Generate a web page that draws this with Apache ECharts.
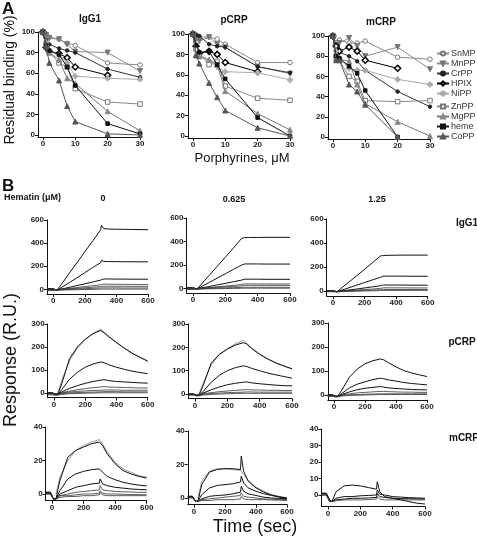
<!DOCTYPE html>
<html><head><meta charset="utf-8">
<script src="https://cdn.jsdelivr.net/npm/echarts@6/dist/echarts.min.js"></script>
<style>html,body{margin:0;padding:0;background:#fff}#c{width:477px;height:539px}</style>
</head><body><div id="c"></div><script>
// ---------- Panel A data ----------
const porphyrinConc = [0, 1, 2, 5, 7.5, 10, 20, 30];
const porphyrins = ['SnMP', 'MnPP', 'CrPP', 'HPIX', 'NiPP', 'ZnPP', 'MgPP', 'heme', 'CoPP'];
const igg1Binding = [
  [100, 98, 95, 93, 89, 87, 70, 68],
  [100, 97, 94, 93, 88, 81, 80, 62],
  [100, 92, 88, 84, 82, 80, 64, 56],
  [100, 85, 81, 79, 75, 66, 58, null],
  [100, 90, 82, 78, 70, 57, 55, 54],
  [100, 88, 80, 70, 66, 45, 32, 30],
  [100, 88, 80, 73, 55, 50, 23, 4],
  [100, 87, 82, 78, 66, 48, 11, 1],
  [100, 86, 70, 53, 28, 13, 1, 0]
];
const pcrpBinding = [
  [100, 99, 97, 97, 95, 90, 72, 72],
  [100, 95, 93, 97, 90, 87, 68, 61],
  [100, 99, 98, 90, 88, 87, 68, 62],
  [100, 88, 81, 83, 80, 72, 63, null],
  [100, 85, 80, 73, 68, 63, 62, 55],
  [100, 85, 80, 70, 73, 49, 37, 35],
  [100, 80, 78, 75, 70, 44, 22, 6],
  [100, 89, 82, 83, 70, 56, 18, 0],
  [100, 79, 71, 52, 38, 25, 8, 0]
];
const mcrpBinding = [
  [100, 93, 96, 93, 93, 95, 79, 77],
  [100, 90, 93, 98, 90, 80, 89, 67],
  [100, 88, 84, 80, 75, 66, 45, 30],
  [100, 90, 85, 89, 85, 76, 68, null],
  [100, 85, 78, 68, 66, 66, 57, 52],
  [100, 80, 76, 60, 55, 36, 35, 36],
  [100, 78, 77, 75, 52, 33, 15, 1],
  [100, 80, 78, 70, 63, 46, 0, null],
  [100, 76, 76, 52, 45, 32, 0, null]
];
const bindingTicksX = [0, 10, 20, 30];
const bindingTicksY = [0, 20, 40, 60, 80, 100];

// ---------- Panel B data (SPR sensorgrams) ----------
const sprTime = [-40, -10, 10, 25, 50, 100, 150, 200, 250, 300, 305, 320, 350, 400, 450, 500, 550, 600];
const igg1H0 = [
  [5, 5, 0, -5, 42, 137, 231, 326, 420, 515, 555, 525, 522, 520, 519, 518, 517, 516],
  [5, 5, 0, -5, 15, 57, 100, 145, 190, 230, 252, 242, 240, 240, 239, 239, 238, 238],
  [3, 3, 0, -4, 3, 17, 33, 48, 64, 80, 96, 90, 90, 89, 89, 88, 88, 88],
  [2, 2, 0, -4, 1, 8, 16, 24, 32, 40, 52, 46, 45, 44, 43, 43, 42, 42],
  [0, 0, -2, -5, -1, 4, 9, 14, 19, 24, 32, 28, 28, 27, 27, 26, 26, 26],
  [-5, -5, -5, -6, -3, 0, 3, 6, 9, 12, 16, 13, 13, 13, 12, 12, 12, 12],
  [-10, -10, -10, -8, -6, -4, -3, -1, 0, 2, 4, 2, 2, 2, 2, 2, 2, 2]
];
const igg1H0625 = [
  [5, 5, 0, -5, 33, 110, 188, 265, 343, 425, 432, 433, 434, 434, 435, 435, 435, 435],
  [5, 5, 0, -5, 13, 50, 87, 124, 162, 198, 210, 208, 208, 208, 207, 207, 207, 207],
  [3, 3, 0, -4, 3, 15, 29, 42, 56, 70, 82, 78, 78, 78, 77, 77, 77, 77],
  [2, 2, 0, -4, 1, 7, 13, 19, 25, 32, 42, 38, 38, 37, 37, 37, 37, 37],
  [0, 0, -2, -5, -1, 3, 8, 12, 16, 20, 28, 25, 25, 25, 25, 25, 25, 25],
  [-5, -5, -5, -6, -3, -1, 2, 4, 6, 8, 10, 9, 9, 9, 9, 9, 9, 9],
  [-10, -10, -10, -8, -6, -4, -3, -2, -1, 0, 2, 1, 1, 1, 1, 1, 1, 1]
];
const igg1H125 = [
  [5, 5, 0, -5, 22, 75, 128, 182, 237, 292, 296, 297, 298, 299, 300, 300, 300, 300],
  [5, 5, 0, -5, 6, 28, 50, 72, 94, 115, 128, 125, 125, 125, 125, 124, 124, 124],
  [3, 3, 0, -4, 1, 10, 18, 27, 36, 45, 55, 52, 51, 51, 51, 50, 50, 50],
  [2, 2, 0, -4, 0, 5, 9, 14, 18, 23, 30, 28, 28, 28, 28, 27, 27, 27],
  [0, 0, -2, -5, -2, 1, 4, 7, 9, 12, 15, 14, 14, 14, 14, 14, 14, 14],
  [-5, -5, -5, -6, -4, -2, 0, 2, 3, 5, 7, 6, 6, 6, 6, 6, 6, 6]
];
const pcrpH0 = [
  [0, 0, -5, -5, 40, 150, 200, 234, 258, 272, 270, 262, 245, 219, 195, 173, 155, 138],
  [0, 0, -5, -5, 15, 60, 90, 112, 126, 135, 137, 132, 123, 112, 103, 95, 89, 84],
  [0, 0, -5, -5, 5, 20, 32, 42, 50, 56, 64, 58, 54, 50, 48, 46, 44, 43],
  [0, 0, -5, -5, 2, 8, 14, 19, 23, 26, 32, 28, 26, 25, 24, 23, 22, 22],
  [-3, -3, -6, -6, 0, 4, 7, 9, 11, 12, 16, 13, 13, 13, 12, 12, 12, 12],
  [-5, -5, -8, -8, -3, 0, 2, 3, 4, 5, 7, 6, 6, 6, 5, 5, 5, 5],
  [-8, -8, -10, -9, -6, -3, -2, -1, 0, 1, 2, 1, 1, 1, 1, 1, 1, 1]
];
const pcrpH0Fit = [null, null, null, 0, 55, 140, 195, 232, 258, 278, 276, 266, 248, 220, 196, 174, 156, 140];
const pcrpH0625 = [
  [0, 0, -5, -5, 35, 132, 170, 192, 210, 220, 222, 214, 195, 170, 150, 133, 120, 108],
  [0, 0, -5, -5, 10, 50, 80, 100, 113, 121, 123, 118, 110, 100, 90, 82, 75, 68],
  [0, 0, -5, -5, 4, 18, 30, 40, 46, 51, 58, 52, 48, 44, 41, 38, 36, 35],
  [0, 0, -5, -5, 1, 6, 10, 13, 16, 18, 24, 19, 18, 17, 16, 16, 15, 15],
  [-3, -3, -6, -6, -1, 2, 4, 6, 7, 8, 11, 9, 9, 8, 8, 8, 8, 8],
  [-5, -5, -8, -8, -4, -2, 0, 1, 2, 3, 4, 3, 3, 3, 3, 3, 3, 3]
];
const pcrpH0625Fit = [null, null, null, 0, 45, 125, 168, 195, 215, 230, 228, 218, 198, 172, 151, 134, 120, 108];
const pcrpH125 = [
  [0, 0, -5, -5, 20, 75, 108, 130, 143, 150, 152, 147, 135, 117, 102, 92, 84, 77],
  [0, 0, -5, -5, 6, 30, 45, 55, 64, 70, 73, 68, 63, 58, 52, 48, 45, 42],
  [0, 0, -5, -5, 2, 13, 22, 28, 32, 35, 38, 33, 30, 27, 25, 23, 22, 21],
  [-2, -2, -6, -6, 0, 5, 9, 11, 13, 15, 18, 15, 14, 13, 12, 12, 11, 11],
  [-4, -4, -7, -7, -2, 1, 2, 3, 4, 5, 6, 5, 5, 5, 5, 5, 5, 5],
  [-6, -6, -8, -8, -4, -2, -1, 0, 1, 2, 2, 2, 2, 2, 2, 2, 2, 2]
];
const mcrpH0 = [
  [1, 1, -3, -3, 8, 22, 26, 28, 30, 31, 31, 29, 24, 18, 14, 12, 10.5, 9.5],
  [1, 1, -3, -3, 2, 9, 12, 13.5, 14.5, 15, 15.5, 13, 10.5, 8.5, 7, 6, 5.3, 4.8],
  [0.5, 0.5, -3, -3, 0, 2, 4, 5, 6, 6.5, 9, 6, 5, 4, 3.5, 3, 2.7, 2.5],
  [0.5, 0.5, -3, -3, -1, 0, 1, 1.5, 2, 2.5, 5, 2.5, 2, 1.5, 1.3, 1.2, 1, 1],
  [0, 0, -3, -3, -1, -1, -0.5, 0, 0, 0.5, 2, 0.5, 0, 0, -0.2, -0.3, -0.4, -0.5],
  [0, 0, -3, -3, -2, -1.5, -1.5, -1, -1, -0.5, 1, -0.5, -1, -1, -1, -1, -1, -1]
];
const mcrpH0Fit = [null, null, null, 0, 10, 20, 26, 29, 31, 32.5, 32, 30, 25, 19, 15, 13, 11, 10];
const mcrpH0625 = [
  [1, 1, -2, -2, 8, 15.5, 17, 17.5, 17.5, 17, 25, 16, 10, 6, 3.5, 1.8, 0.5, -0.5],
  [1, 1, -2, -2, 2, 6, 7.5, 8, 8.5, 9.5, 13, 9, 6, 4, 2.5, 1.5, 0.7, 0],
  [0.5, 0.5, -2, -2, -0.5, 1, 1.5, 1.8, 2.5, 3.5, 7, 4, 2.5, 1.5, 0.5, 0, -0.3, -0.5],
  [0.5, 0.5, -2, -2, -1, -0.5, 0, 0.5, 1, 1.5, 3, 1, 0.5, 0, -0.5, -0.7, -0.9, -1],
  [0, 0, -2, -2, -1.5, -1.5, -1, -1, -1, -0.5, 1, -0.5, -1, -1, -1, -1.2, -1.3, -1.5]
];
const mcrpH0625Fit = [null, null, null, 0, 10, 16, 17.5, 17.5, 17, 16.5, 16.5, 14, 10.5, 6.5, 4, 2, 1, 0];
const mcrpH125 = [
  [1, 1, -3, -4, 2, 5.5, 6, 5.5, 4.5, 3.5, 8, 2, -1, -2, -3, -4, -5, -5.5],
  [1, 1, -3, -4, -2, -1, -1, -0.5, -0.3, 0, 3, 0.5, 0, -1, -1.3, -1.6, -1.8, -2],
  [0, 0, -4, -4, -3, -2.5, -2, -2, -1.8, -1.5, 1, -1, -1.5, -2, -2.2, -2.3, -2.4, -2.5],
  [0, 0, -4, -4, -3.5, -3, -3, -3, -2.8, -2.5, -1, -2.5, -3, -3, -3, -3, -3, -3]
];
const timeTicks = [0, 200, 400, 600];
const igg1Ticks = [0, 200, 400, 600];
const pcrpTicks = [0, 100, 200, 300];
const mcrpTicks = [0, 20, 40];
const mcrpTicks3 = [0, 10, 20, 30, 40];

// ---------- styles / layout ----------
const FONT = 'Liberation Sans, Arial, sans-serif';
const symStyle = {
  SnMP: {symbol: 'circle', size: 4.5, fill: '#fff', stroke: '#777', line: '#888'},
  MnPP: {symbol: 'triangle', rotate: 180, size: 5, fill: '#777', stroke: '#777', line: '#888'},
  CrPP: {symbol: 'circle', size: 3.5, fill: '#222', stroke: '#222', line: '#333'},
  HPIX: {symbol: 'diamond', size: 6, fill: '#fff', stroke: '#000', bw: 1.5, line: '#000'},
  NiPP: {symbol: 'path://M-1,-3L1,-3L1,-1L3,-1L3,1L1,1L1,3L-1,3L-1,1L-3,1L-3,-1L-1,-1Z', size: 5, fill: '#aaa', stroke: '#aaa', line: '#aaa'},
  ZnPP: {symbol: 'rect', size: 4.5, fill: '#fff', stroke: '#777', line: '#888'},
  MgPP: {symbol: 'triangle', size: 5, fill: '#888', stroke: '#888', line: '#777'},
  heme: {symbol: 'rect', size: 3.5, fill: '#111', stroke: '#111', line: '#111'},
  CoPP: {symbol: 'triangle', size: 5, fill: '#555', stroke: '#555', line: '#555'}
};

const grids = [], xAxes = [], yAxes = [], series = [];
function addGrid(g, xmin, xmax, xt, ymin, ymax, yt) {
  const i = grids.length;
  grids.push(Object.assign({containLabel: false}, g));
  const lab = {fontSize: 8, fontWeight: 'bold', color: '#222', fontFamily: FONT, margin: 3};
  const axLine = {onZero: false, lineStyle: {color: '#111', width: 1}};
  xAxes.push({type: 'value', gridIndex: i, min: xmin, max: xmax,
    axisLine: axLine, splitLine: {show: false},
    axisTick: {customValues: xt, length: 3, lineStyle: {color: '#111'}},
    axisLabel: Object.assign({customValues: xt}, lab)});
  yAxes.push({type: 'value', gridIndex: i, min: ymin, max: ymax,
    axisLine: axLine, splitLine: {show: false},
    axisTick: {customValues: yt, length: 3, lineStyle: {color: '#111'}},
    axisLabel: Object.assign({customValues: yt}, lab)});
  return i;
}

// Panel A
const panelA = [
  {data: igg1Binding, grid: {left: 38, top: 32, width: 102, height: 105}},
  {data: pcrpBinding, grid: {left: 188, top: 34, width: 102, height: 104}},
  {data: mcrpBinding, grid: {left: 328, top: 36, width: 102, height: 103}}
];
panelA.forEach(p => {
  const gi = addGrid(p.grid, -1.5, 30, bindingTicksX, -2, 100, bindingTicksY);
  p.data.forEach((vals, k) => {
    const name = porphyrins[k], s = symStyle[name];
    series.push({type: 'line', name, xAxisIndex: gi, yAxisIndex: gi,
      data: porphyrinConc.map((x, j) => [x, vals[j]]).filter(d => d[1] !== null),
      symbol: s.symbol, symbolSize: s.size, symbolRotate: s.rotate || 0, showSymbol: true,
      itemStyle: {color: s.fill, borderColor: s.stroke, borderWidth: s.bw || 1},
      lineStyle: {color: s.line, width: 1}, z: 2 + k});
  });
});

// Panel B
const panelB = [
  {curves: igg1H0, fit: null, ymin: -40, ymax: 600, yt: igg1Ticks, grid: {left: 47, top: 220, width: 101, height: 74}},
  {curves: igg1H0625, fit: null, ymin: -40, ymax: 600, yt: igg1Ticks, grid: {left: 186.5, top: 218, width: 103.5, height: 75}},
  {curves: igg1H125, fit: null, ymin: -40, ymax: 600, yt: igg1Ticks, grid: {left: 326.7, top: 219, width: 101, height: 77}},
  {curves: pcrpH0, fit: pcrpH0Fit, ymin: -20, ymax: 300, yt: pcrpTicks, grid: {left: 47.7, top: 324, width: 100, height: 73.6}},
  {curves: pcrpH0625, fit: pcrpH0625Fit, ymin: -20, ymax: 300, yt: pcrpTicks, grid: {left: 188.5, top: 324, width: 103.5, height: 74.7}},
  {curves: pcrpH125, fit: null, ymin: -20, ymax: 300, yt: pcrpTicks, grid: {left: 327.8, top: 323, width: 99.2, height: 76.8}},
  {curves: mcrpH0, fit: mcrpH0Fit, ymin: -4, ymax: 40, yt: mcrpTicks, grid: {left: 45.7, top: 427, width: 101, height: 73.7}},
  {curves: mcrpH0625, fit: mcrpH0625Fit, ymin: -4, ymax: 40, yt: mcrpTicks, grid: {left: 187.8, top: 431, width: 99.2, height: 73.7}},
  {curves: mcrpH125, fit: null, ymin: -7, ymax: 40, yt: mcrpTicks3, grid: {left: 321.5, top: 429, width: 103.5, height: 77.5}}
];
panelB.forEach(p => {
  const gi = addGrid(p.grid, -40, 600, timeTicks, p.ymin, p.ymax, p.yt);
  if (p.fit) {
    series.push({type: 'line', xAxisIndex: gi, yAxisIndex: gi, showSymbol: false, silent: true,
      data: sprTime.map((t, j) => [t, p.fit[j]]).filter(d => d[1] !== null),
      lineStyle: {color: '#999', width: 1}, z: 1});
  }
  p.curves.forEach((c, k) => {
    series.push({type: 'line', xAxisIndex: gi, yAxisIndex: gi, showSymbol: false, silent: true,
      data: sprTime.map((t, j) => [t, c[j]]),
      lineStyle: {color: k < 3 ? '#111' : '#333', width: k < 3 ? 1 : 0.8}, z: 2});
  });
});

function txt(x, y, text, size, weight, align, rot) {
  return {type: 'text', x, y, rotation: rot || 0,
    style: {text, fontSize: size, fontWeight: weight || 'normal', fontFamily: FONT, fill: '#111',
      align: align || 'left', verticalAlign: 'middle'}};
}
const graphics = [
  txt(2, 9, 'A', 17, 'bold'),
  txt(10, 80, 'Residual binding (%)', 14, 'normal', 'center', Math.PI / 2),
  txt(90, 19, 'IgG1', 10, 'bold', 'center'),
  txt(234, 20, 'pCRP', 10, 'bold', 'center'),
  txt(381, 22, 'mCRP', 10, 'bold', 'center'),
  txt(242, 158, 'Porphyrines, \u03bcM', 13, 'normal', 'center'),
  txt(2, 186, 'B', 17, 'bold'),
  txt(4, 198, 'Hematin (\u03bcM)', 9, 'bold'),
  txt(103, 199, '0', 9, 'bold', 'center'),
  txt(234, 200, '0.625', 9, 'bold', 'center'),
  txt(377, 200, '1.25', 9, 'bold', 'center'),
  txt(467, 223, 'IgG1', 10, 'bold', 'center'),
  txt(462, 342, 'pCRP', 10, 'bold', 'center'),
  txt(464, 438, 'mCRP', 10, 'bold', 'center'),
  txt(11, 360, 'Response (R.U.)', 18, 'normal', 'center', Math.PI / 2),
  txt(255, 527, 'Time (sec)', 18, 'normal', 'center')
];

const legendCommon = {orient: 'vertical', left: 436, itemWidth: 12, itemHeight: 5, itemGap: 1,
  textStyle: {fontSize: 9, color: '#333', fontFamily: FONT, lineHeight: 8, padding: [0, 0, 0, -3]}, padding: 0};
const chart = echarts.init(document.getElementById('c'), null, {renderer: 'canvas'});
chart.setOption({
  animation: false,
  backgroundColor: '#fff',
  grid: grids, xAxis: xAxes, yAxis: yAxes, series,
  legend: [
    Object.assign({top: 49, data: porphyrins.slice(0, 5)}, legendCommon),
    Object.assign({top: 102, data: porphyrins.slice(5)}, legendCommon)
  ],
  graphic: graphics
});
</script></body></html>
